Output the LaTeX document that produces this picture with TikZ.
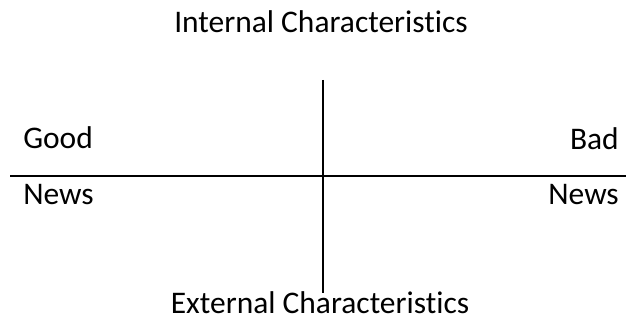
\documentclass[tikz,border=0pt]{standalone}
\usepackage{fontspec}
\setmainfont{Carlito}[RawFeature={-liga;-clig;-dlig}]
\begin{document}
\begin{tikzpicture}[x=0.75pt,y=-0.75pt,
  lbl/.style={inner sep=0pt,font=\fontsize{23.6pt}{28pt}\selectfont},
  axis/.style={line width=1.5pt,black}]
\useasboundingbox (0,0) rectangle (626,327);
\node[lbl,anchor=base] (int) at (321,33) {Internal Characteristics};
\node[lbl,anchor=base] (ext) at (320,314) {External Characteristics};
\node[lbl,anchor=base west] (good) at (23,149) {Good};
\node[lbl,anchor=base east] (bad) at (619,150) {Bad};
\node[lbl,anchor=base west] (newsl) at (23,205) {News};
\node[lbl,anchor=base east] (newsr) at (619,205) {News};
\coordinate (vt) at (323,80);
\coordinate (vb) at (323,293);
\coordinate (hl) at (10,176);
\coordinate (hr) at (626,176);
\draw[axis] (vt) -- (vb);
\draw[axis] (hl) -- (hr);
\end{tikzpicture}
\end{document}
